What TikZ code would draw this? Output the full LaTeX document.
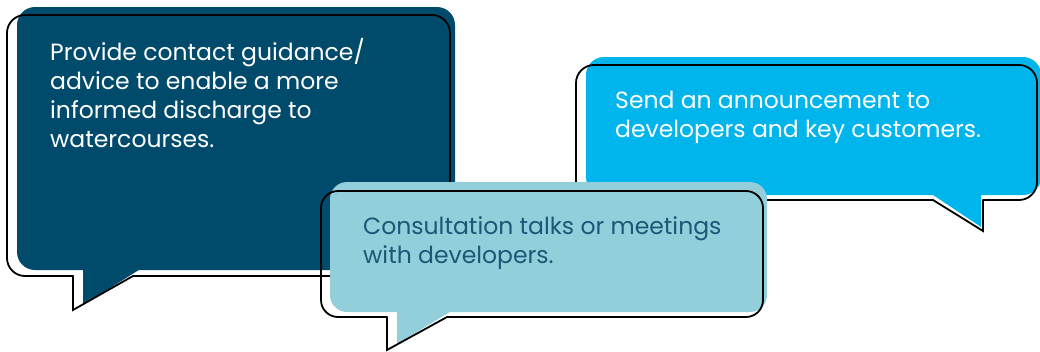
\documentclass[tikz,border=0pt]{standalone}
\usepackage{fontspec}
\setmainfont{Poppins}

\definecolor{bubbleNavy}{HTML}{004B6B}
\definecolor{bubbleSky}{HTML}{00B4EC}
\definecolor{bubblePale}{HTML}{93CFDB}
\definecolor{inkTeal}{HTML}{1B5878}

\tikzset{
  outline/.style={draw=black, line width=1.8pt, line join=miter, line cap=round},
  % anchored at the baseline of the last line
  bubbletext/.style={anchor=base west, align=left, inner sep=0pt,
                     font=\fontsize{23.5}{29}\selectfont},
}

\begin{document}
\begin{tikzpicture}[x=1pt, y=-1pt]
  \useasboundingbox (0,0) rectangle (1040,351);

  % left bubble (dark)
  \fill[bubbleNavy, rounded corners=18pt] (17,7) rectangle (455,270);
  \fill[bubbleNavy] (83,268) -- (83,305) -- (142,268) -- cycle;
  \draw[outline, rounded corners=18pt] (133,276) -- (450,276) -- (450,15) -- (7,15) -- (7,276) -- (73,276);
  \draw[outline] (73,276) -- (73,310) -- (133,276);
  \node[bubbletext, text=white] (guidance) at (50,147)
    {Provide contact guidance/\\advice to enable a more\\informed discharge to\\watercourses.};

  % right bubble (bright)
  \fill[bubbleSky, rounded corners=18pt] (586,57) rectangle (1041,195);
  \fill[bubbleSky] (930,193) -- (981,227) -- (981,193) -- cycle;
  \draw[outline, rounded corners=18pt] (933,200) -- (576,200) -- (576,65) -- (1037,65) -- (1037,200) -- (983,200);
  \draw[outline] (983,200) -- (983,231) -- (933,200);
  \node[bubbletext, text=white] (announce) at (615,137)
    {Send an announcement to\\developers and key customers.};

  % middle bubble (pale)
  \fill[bubblePale, rounded corners=17pt] (330,182) rectangle (767,312);
  \fill[bubblePale] (397,310) -- (397,344) -- (453,310) -- cycle;
  \draw[outline, rounded corners=17pt] (447,317) -- (763,317) -- (763,191) -- (321,191) -- (321,317) -- (387,317);
  \draw[outline] (387,317) -- (387,350) -- (447,317);
  \node[bubbletext, text=inkTeal] (talks) at (363,263)
    {Consultation talks or meetings\\with developers.};
\end{tikzpicture}
\end{document}
